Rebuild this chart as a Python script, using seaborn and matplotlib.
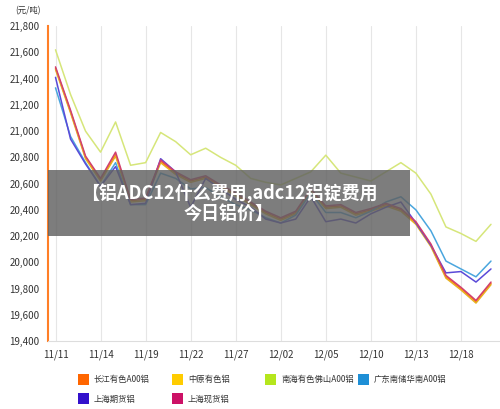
import matplotlib
matplotlib.use("Agg")
import matplotlib.pyplot as plt
import seaborn as sns
import pandas as pd
import numpy as np

sns.set_style("white")
plt.rcParams['font.family'] = ['Noto Sans CJK SC', 'DejaVu Sans']

tick_labels = ["11/11","11/14","11/19","11/22","11/27","12/02","12/05","12/10","12/13","12/18"]
changjiang = [21480,21150,20800,20630,20820,20470,20480,20770,20680,20620,20650,20580,20520,20450,20380,20330,20380,20550,20420,20430,20370,20400,20440,20400,20300,20130,19890,19800,19700,19840]
zhongyuan = [21470,21140,20790,20620,20810,20460,20470,20760,20670,20610,20640,20570,20510,20440,20370,20320,20370,20540,20410,20420,20360,20390,20430,20390,20290,20120,19880,19790,19690,19830]
nanhai = [21620,21280,21000,20840,21070,20740,20760,20990,20920,20820,20870,20800,20740,20640,20610,20590,20640,20690,20817,20680,20650,20620,20690,20760,20680,20520,20270,20220,20160,20290]
guangdong = [21330,20960,20760,20580,20760,20440,20440,20680,20640,20560,20570,20500,20440,20400,20340,20300,20360,20530,20380,20380,20340,20390,20460,20500,20400,20240,20010,19950,19890,20010]
shfutures = [21410,20940,20750,20580,20730,20440,20450,20790,20690,20420,20640,20560,20480,20420,20330,20300,20330,20500,20310,20330,20300,20370,20420,20460,20300,20130,19920,19930,19850,19950]
shspot = [21490,21160,20810,20640,20840,20480,20490,20780,20690,20630,20660,20590,20530,20460,20390,20340,20390,20560,20430,20440,20380,20410,20450,20410,20310,20140,19900,19810,19710,19850]

names = ["长江有色A00铝","中原有色铝","南海有色佛山A00铝","广东南储华南A00铝","上海期货铝","上海现货铝"]
series = [changjiang, zhongyuan, nanhai, guangdong, shfutures, shspot]
colors = ["#ff6600","#ffcc00","#b5e61d","#1e8fd6","#3311cc","#cc1166"]
line_colors = ["#ff6a10","#e8b020","#d6e67a","#4aa6de","#5a4ad8","#d04070"]

fig = plt.figure(figsize=(5, 4.09), dpi=100)
ax = fig.add_axes([0.096, 0.166, 0.904, 0.77])
x = np.arange(len(changjiang))
for name, s, c in zip(names, series, line_colors):
    df = pd.DataFrame({"x": x, "y": s})
    sns.lineplot(data=df, x="x", y="y", ax=ax, color=c, linewidth=1.1, legend=False)

ax.set_xlim(-0.5, 29.6)
ax.set_ylim(19400, 21800)
ax.set_yticks(np.arange(19400, 21801, 200))
ax.set_yticklabels([f"{v:,}" for v in range(19400, 21801, 200)], fontsize=7, color="#333333")
ax.set_xticks(np.arange(0, 30, 3))
ax.set_xticklabels(tick_labels, fontsize=7, color="#333333")
ax.tick_params(length=0, pad=6)
ax.xaxis.grid(True, color="#e6e6e6", linewidth=0.8)
ax.yaxis.grid(False)
ax.set_xlabel(""); ax.set_ylabel("")
for sp in ["top", "right"]:
    ax.spines[sp].set_visible(False)
ax.spines["left"].set_color("#ff7f27")
ax.spines["left"].set_linewidth(1.5)
ax.spines["bottom"].set_color("#dddddd")
fig.text(0.03, 0.975, "(元/吨)", fontsize=6, color="#333333", va="center")

# banner
fig.patches.append(plt.Rectangle((0.096, 0.423), 0.724, 0.162, transform=fig.transFigure,
                                 facecolor="#606060", alpha=0.82, edgecolor="none", zorder=5))
fig.text(0.458, 0.504, "【铝ADC12什么费用,adc12铝锭费用\n今日铝价】", ha="center", va="center",
         color="white", fontsize=13, fontweight="bold", linespacing=1.1, zorder=6)

# legend, row-major order
handles = [plt.Rectangle((0, 0), 1, 1, color=c) for c in colors]
order = [0, 4, 1, 5, 2, 3]
col_x = [0.156, 0.344, 0.530, 0.716]
for k, i in enumerate(range(6)):
    row, col = divmod(i, 4)
    xx = col_x[col]
    yy = 0.071 - row * 0.047
    fig.patches.append(plt.Rectangle((xx, yy - 0.012), 0.022, 0.026, transform=fig.transFigure,
                                     facecolor=colors[i], edgecolor="none"))
    fig.text(xx + 0.032, yy, names[i], fontsize=6, color="#333333", va="center")

fig.savefig("out.png", dpi=100)
